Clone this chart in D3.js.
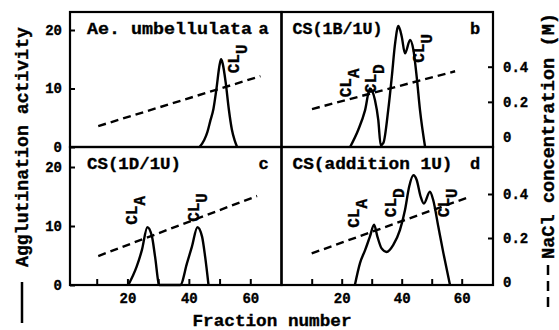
<!DOCTYPE html>
<html><head><meta charset="utf-8">
<script src="https://cdn.jsdelivr.net/npm/d3@7"></script>
<style>
body{margin:0;background:#fff}
svg{display:block}
text{font-family:"Liberation Mono","Courier New",monospace;font-weight:bold;fill:#000;stroke:#000;stroke-width:0.35px}
</style>
</head><body><svg id="c" width="559" height="330"></svg>
<script>
// ---- data (fraction number vs agglutination activity) ----
const fractionA = [43.5,45,46,47,48,49,50,50.5,51,52,53,54,55,55.7];
const activityA = [0,1.2,2.5,4.5,6.5,10,14,15,14.3,11,6.5,3,1,0];
const fractionB = [22.8,25.5,27.8,29.4,31.1,32.2,33,33.9,35.5,36.7,37.8,38.9,40,41.1,42.8,43.9,45,46.1,47.8];
const activityB = [0,2.9,6.3,10,8,4.6,0.3,0.7,6.3,12,17.7,20.7,18.9,16,18.3,16.6,12,6.3,0];
const fractionC = [20.3,23,24.7,26.5,28,29,30.4,37.2,39.4,41,42.8,44.3,45.3,46.4];
const activityC = [0,3.1,5.9,9.8,8.2,4.8,0,0,3.7,6.5,9.8,8.2,4.8,0];
const fractionD = [24.4,26.1,27.8,29.4,30.8,31.9,33.3,35,37.2,39.4,41.1,42.5,43.9,45,46.3,47.4,49.4,50.5,52.2,53.9,56.1];
const activityD = [0,3.7,5.9,8.2,10.2,8.2,6.2,5.6,6.8,9.3,12.7,16.7,18.6,17.8,15,13.8,15.8,14.4,9.9,5.4,0];
// NaCl gradient (dashed) endpoints
const naclFracA = [10.5,63.3]; const naclA = [0.062,0.346];
const naclFracB = [10.1,57.8]; const naclB = [0.159,0.374];
const naclFracC = [10.5,62.2]; const naclC = [0.118,0.391];
const naclFracD = [10.0,62.8]; const naclD = [0.13,0.388];
// ticks
const activityTicks = [0,10,20];
const naclTicks = [0,0.2,0.4];
const fractionTicks = [10,20,30,40,50,60];
const fractionTickLabels = [20,40,60];
// texts
const panelTitles = ["Ae. umbellulata","CS(1B/1U)","CS(1D/1U)","CS(addition 1U)"];
const panelLetters = ["a","b","c","d"];
// peak labels: subscript, fraction, activity (bottom of label)
const peakSubsA = ["U"]; const peakFracA = [54.7]; const peakActA = [12.6];
const peakSubsB = ["A","D","U"]; const peakFracB = [21.4,29.8,45.8]; const peakActB = [8.5,9.2,14.4];
const peakSubsC = ["A","U"]; const peakFracC = [21.5,41.7]; const peakActC = [10.2,10.7];
const peakSubsD = ["A","D","U"]; const peakFracD = [24.1,36.4,54.1]; const peakActD = [9.7,11.5,11.5];

// ---- layout ----
const svg = d3.select("#c");
const L = 70, MX = 281.5, R = 493, T = 12, MY = 147, B = 285;
const xLeft = d3.scaleLinear().domain([0,70]).range([66,281]);
const xRight = d3.scaleLinear().domain([0,70]).range([281.7,491.7]);
const yTop = d3.scaleLinear().domain([0,20]).range([147,30]);
const yBot = d3.scaleLinear().domain([0,20]).range([285,167]);
const sTop = d3.scaleLinear().domain([0,0.4]).range([137,66.7]);
const sBot = d3.scaleLinear().domain([0,0.4]).range([282,194]);

const panels = [
  {x:xLeft, y:yTop, s:sTop, fr:fractionA, ac:activityA, nf:naclFracA, nv:naclA, ps:peakSubsA, pf:peakFracA, pa:peakActA, x0:L, x1:MX, y0:T, y1:MY, title:panelTitles[0], letter:panelLetters[0], tl:165},
  {x:xRight, y:yTop, s:sTop, fr:fractionB, ac:activityB, nf:naclFracB, nv:naclB, ps:peakSubsB, pf:peakFracB, pa:peakActB, x0:MX, x1:R, y0:T, y1:MY, title:panelTitles[1], letter:panelLetters[1], tl:90},
  {x:xLeft, y:yBot, s:sBot, fr:fractionC, ac:activityC, nf:naclFracC, nv:naclC, ps:peakSubsC, pf:peakFracC, pa:peakActC, x0:L, x1:MX, y0:MY, y1:B, title:panelTitles[2], letter:panelLetters[2], tl:94},
  {x:xRight, y:yBot, s:sBot, fr:fractionD, ac:activityD, nf:naclFracD, nv:naclD, ps:peakSubsD, pf:peakFracD, pa:peakActD, x0:MX, x1:R, y0:MY, y1:B, title:panelTitles[3], letter:panelLetters[3], tl:160}
];

function styleAxis(g, size){
  g.attr("font-family", null).attr("font-size", null);
  g.selectAll("text").attr("font-size", size).style("font-weight","bold");
  g.selectAll(".tick line").attr("stroke","#000").attr("stroke-width",2);
  g.select(".domain").remove();
}

panels.forEach((p,i) => {
  const g = svg.append("g");
  // curve
  const pts = p.fr.map((f,k)=>[f,p.ac[k]]);
  g.append("path").datum(pts)
    .attr("d", d3.line().x(d=>p.x(d[0])).y(d=>p.y(d[1])).curve(d3.curveMonotoneX))
    .attr("fill","none").attr("stroke","#000").attr("stroke-width",2.4).attr("stroke-linejoin","round");
  // NaCl dashed
  const npts = p.nf.map((f,k)=>[f,p.nv[k]]);
  g.append("path").datum(npts)
    .attr("d", d3.line().x(d=>p.x(d[0])).y(d=>p.s(d[1])))
    .attr("fill","none").attr("stroke","#000").attr("stroke-width",2.4).attr("stroke-dasharray","8,5");
  // frame
  g.append("rect").attr("x",p.x0).attr("y",p.y0).attr("width",p.x1-p.x0).attr("height",p.y1-p.y0)
    .attr("fill","none").attr("stroke","#000").attr("stroke-width",2.2);
  // title + letter
  g.append("text").attr("x",p.x0+17 - (i%2?6:0)).attr("y",p.y0+22).attr("font-size",17)
    .attr("textLength",p.tl).attr("lengthAdjust","spacingAndGlyphs").text(p.title);
  g.append("text").attr("x",p.x1-18).attr("y",p.y0+22).attr("font-size",17).attr("text-anchor","middle").text(p.letter);
  // peak labels
  p.ps.forEach((sub,k)=>{
    const t = g.append("text")
      .attr("transform",`translate(${p.x(p.pf[k])+5},${p.y(p.pa[k])}) rotate(-90)`)
      .attr("font-size",16);
    t.append("tspan").text("CL");
    t.append("tspan").attr("dy",8).text(sub);
  });
  // left axis
  if (i%2===0){
    const ax = g.append("g").attr("transform",`translate(${L},0)`)
      .call(d3.axisLeft(p.y).tickValues(activityTicks).tickSize(-5).tickPadding(8));
    styleAxis(ax, 14);
  } else {
    const ax = g.append("g").attr("transform",`translate(${R},0)`)
      .call(d3.axisRight(p.s).tickValues(naclTicks).tickSize(-5).tickPadding(10)
        .tickFormat(d=> d===0 ? "0" : d3.format(".1f")(d)));
    styleAxis(ax, 14);
    ax.selectAll(".tick").filter(d=>d===0).select("line").remove();
  }
  if (i>=2){
    const ax = g.append("g").attr("transform",`translate(0,${B})`)
      .call(d3.axisBottom(p.x).tickValues(fractionTicks).tickSize(-6).tickPadding(8)
        .tickFormat(d=> fractionTickLabels.includes(d) ? d : ""));
    styleAxis(ax, 14);
  }
});

// axis titles
svg.append("text").attr("x",272).attr("y",326).attr("text-anchor","middle").attr("font-size",17)
  .attr("textLength",159).attr("lengthAdjust","spacingAndGlyphs").text("Fraction number");
svg.append("text").attr("transform","translate(28,147) rotate(-90)").attr("text-anchor","middle")
  .attr("font-size",18).attr("textLength",240).attr("lengthAdjust","spacingAndGlyphs").text("Agglutination activity");
svg.append("line").attr("x1",22).attr("x2",22).attr("y1",282).attr("y2",323).attr("stroke","#000").attr("stroke-width",2.5);
svg.append("text").attr("transform","translate(554,136) rotate(-90)").attr("text-anchor","middle")
  .attr("font-size",18).attr("textLength",246).attr("lengthAdjust","spacingAndGlyphs").text("NaCl concentration (M)");
svg.append("line").attr("x1",548).attr("x2",548).attr("y1",265).attr("y2",312).attr("stroke","#000").attr("stroke-width",2.5).attr("stroke-dasharray","10,6");
</script></body></html>
